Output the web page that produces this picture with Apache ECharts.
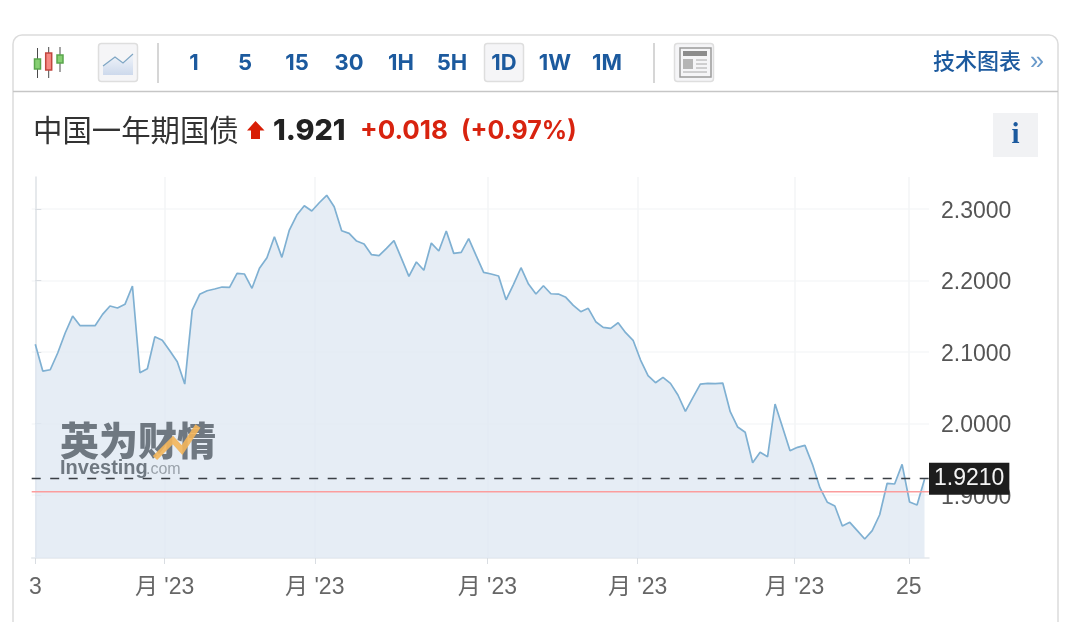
<!DOCTYPE html>
<html>
<head>
<meta charset="utf-8">
<title>中国一年期国债</title>
<style>
  html, body { margin: 0; padding: 0; background: #fff; }
  #chart { width: 1080px; height: 622px; }
</style>
<script src="https://cdn.jsdelivr.net/npm/echarts@6/dist/echarts.min.js"></script>
</head>
<body>
<div id="chart"></div>
<script>
const yields = [
  2.1108, 2.0734, 2.0752, 2.0986, 2.1266, 2.1503, 2.1368, 2.1368, 2.1368, 2.1527,
  2.1643, 2.1615, 2.1667, 2.1923, 2.0710, 2.0766, 2.1214, 2.1164, 2.1018, 2.0864,
  2.0552, 2.1587, 2.1807, 2.1857, 2.1881, 2.1909, 2.1905, 2.2101, 2.2091, 2.1891,
  2.2171, 2.2319, 2.2613, 2.2324, 2.2706, 2.2916, 2.3046, 2.2972, 2.3088, 2.3192,
  2.3032, 2.2697, 2.2660, 2.2552, 2.2510, 2.2361, 2.2347, 2.2450, 2.2557, 2.2310,
  2.2059, 2.2259, 2.2143, 2.2524, 2.2413, 2.2692, 2.2380, 2.2394, 2.2585, 2.2347,
  2.2115, 2.2091, 2.2063, 2.1731, 2.1947, 2.2179, 2.1951, 2.1811, 2.1927, 2.1815,
  2.1811, 2.1765, 2.1653, 2.1564, 2.1611, 2.1424, 2.1345, 2.1331, 2.1410, 2.1270,
  2.1164, 2.0888, 2.0669, 2.0571, 2.0646, 2.0562, 2.0399, 2.0171, 2.0361, 2.0552,
  2.0562, 2.0557, 2.0566, 2.0165, 1.9951, 1.9877, 1.9452, 1.9597, 1.9536, 2.0273,
  1.9947, 1.9620, 1.9667, 1.9695, 1.9429, 1.9102, 1.8898, 1.8846, 1.8566, 1.8618,
  1.8501, 1.8385, 1.8501, 1.8724, 1.9164, 1.9154, 1.9429, 1.8902, 1.8860, 1.9220
];
const xTickValues = [0, 17.3, 37.4, 60.5, 80.6, 101.6, 116.9];
const xTickLabels = ["3", "月 '23", "月 '23", "月 '23", "月 '23", "月 '23", "25"];
const yTickValues = [1.9, 2.0, 2.1, 2.2, 2.3];
const currentLevel = 1.9228;
const prevCloseLevel = 1.9046;
const currentTag = "1.9210";
const periods = ["1", "5", "15", "30", "1H", "5H", "1D", "1W", "1M"];

const xMin = -0.48;
const xMax = 119.6;

const blue = "#1c5a9e";
const sansFont = '"Liberation Sans", Arial, sans-serif';
const uiFont = 'Inter, "Liberation Sans", sans-serif';
const cjkFont = '"Noto Sans CJK SC", sans-serif';

function label(text, x, y, font, fill, align, z) {
  return {
    type: "text",
    silent: true,
    z: z || 0,
    style: { text, x, y, font, fill, textAlign: align || "left", textVerticalAlign: "middle" }
  };
}
function box(x, y, width, height, fill, stroke, r) {
  return {
    type: "rect",
    silent: true,
    shape: { x, y, width, height, r: r || 0 },
    style: { fill: fill || "none", stroke: stroke || "none", lineWidth: stroke ? 1.5 : 0 }
  };
}
function segment(x1, y1, x2, y2, stroke, lineWidth) {
  return {
    type: "line",
    silent: true,
    shape: { x1, y1, x2, y2 },
    style: { stroke, lineWidth: lineWidth || 1 }
  };
}

// toolbar, title row and watermark around the plot
const periodX = [194, 245, 297, 349, 401, 452, 504, 555, 607];
const chrome = [
  box(13, 35, 1045, 620, "#fff", "#dcdcdc", 9),
  segment(13, 91.5, 1058, 91.5, "#c6c6c6", 1.5),

  // candle icon
  segment(37.5, 48, 37.5, 78, "#4a4a4a"),
  box(34.5, 59, 6, 10, "#86cf72", "#5aa64c"),
  segment(48.7, 47, 48.7, 78, "#4a4a4a"),
  box(45.7, 53, 6, 17, "#f58a84", "#c2453e"),
  segment(60, 47, 60, 72, "#4a4a4a"),
  box(57, 55, 6, 8, "#86cf72", "#5aa64c"),

  // line icon
  box(98.5, 43.5, 39, 38, "#f5f5f7", "#dedede", 3),
  {
    type: "polygon",
    silent: true,
    shape: { points: [[103, 66], [115, 57], [123, 63], [133, 54], [133, 75], [103, 75]] },
    style: { fill: { type: "linear", x: 0, y: 0, x2: 0, y2: 1, colorStops: [
      { offset: 0, color: "#f2f5fa" }, { offset: 1, color: "#cdd9ec" }
    ] } }
  },
  {
    type: "polyline",
    silent: true,
    shape: { points: [[103, 66], [115, 57], [123, 63], [133, 54]] },
    style: { stroke: "#7fa6c4", lineWidth: 1.2, fill: "none" }
  },

  segment(158, 43, 158, 83, "#c9c9c9", 1.5),
  box(484.5, 43.5, 39, 38, "#f5f5f7", "#dedede", 3),
  segment(654, 43, 654, 83, "#c9c9c9", 1.5),

  // news icon
  box(674.5, 43.5, 39, 38, "#f5f5f7", "#dedede", 3),
  box(680, 48, 31, 29, "none", "#9a9a9a"),
  box(683, 51, 24, 5, "#8c8c8c"),
  box(683, 59, 10, 10, "#b5b5b5"),
  segment(696, 60, 707, 60, "#a8a8a8"),
  segment(696, 64, 707, 64, "#a8a8a8"),
  segment(696, 68, 707, 68, "#a8a8a8"),
  segment(683, 72, 707, 72, "#a8a8a8"),

  label("技术图表", 933, 61, "500 22px " + cjkFont, blue),
  label("»", 1037, 62, "25px " + sansFont, "#6b9bcb", "center"),

  // title row
  label("中国一年期国债", 33, 130, "29.4px " + cjkFont, "#333"),
  {
    type: "polygon",
    silent: true,
    shape: { points: [[255.5, 121], [264.5, 130.5], [260, 130.5], [260, 139], [251, 139], [251, 130.5], [247, 130.5]] },
    style: { fill: "#d81e06" }
  },
  label("1.921", 273, 131, "800 28.8px " + uiFont, "#222"),
  label("+0.018", 360, 131, "700 26px " + uiFont, "#d8230f"),
  label("(+0.97%)", 461, 131, "700 25px " + uiFont, "#d8230f"),

  box(993, 113, 45, 44, "#f1f2f4"),
  label("i", 1015.5, 136, 'bold 29px "Liberation Serif", serif', blue, "center"),

  // watermark
  label("英为财情", 60, 440, "900 39px " + cjkFont, "#6f7881", "left", 10),
  {
    type: "polyline",
    silent: true,
    z: 11,
    shape: { points: [[155, 458], [173, 440], [182, 450], [198, 426]] },
    style: { stroke: "rgba(243,181,90,0.9)", lineWidth: 6, fill: "none" }
  },
  label("Investing", 60, 468, "bold 20px " + sansFont, "#6f7881", "left", 10),
  label(".com", 146, 470, "16px " + sansFont, "#9aa2aa", "left", 10)
];
periods.forEach((p, i) => {
  chrome.push(label(p, periodX[i], 63, "700 22px " + uiFont, blue, "center"));
});

const chart = echarts.init(document.getElementById("chart"));
chart.setOption({
  animation: false,
  backgroundColor: "#fff",
  graphic: chrome,
  grid: { left: 31.7, right: 151, top: 177, bottom: 64 },
  xAxis: {
    type: "value",
    min: xMin,
    max: xMax,
    axisLine: { onZero: false, lineStyle: { color: "#e4e7eb", width: 1.5 } },
    axisTick: { length: 6, customValues: xTickValues, lineStyle: { color: "#d9dde2" } },
    axisLabel: {
      customValues: xTickValues,
      showMinLabel: true,
      showMaxLabel: true,
      hideOverlap: false,
      margin: 18,
      fontFamily: '"Liberation Sans", "Noto Sans CJK SC", sans-serif',
      fontSize: 23,
      color: "#666",
      formatter: (v) => xTickLabels[xTickValues.indexOf(v)]
    },
    splitLine: { show: true, customValues: xTickValues, lineStyle: { color: "#f3f4f6", width: 1.5 } }
  },
  yAxis: {
    type: "value",
    position: "right",
    min: 1.8119,
    max: 2.3448,
    axisLine: { show: true, lineStyle: { color: "#e1e4e9", width: 1.5 } },
    axisTick: { show: true, length: 6, customValues: yTickValues, lineStyle: { color: "#d9dde2" } },
    axisLabel: {
      customValues: yTickValues,
      margin: 12,
      verticalAlign: "top",
      lineHeight: 5,
      fontFamily: sansFont,
      fontSize: 23,
      color: "#555",
      formatter: (v) => v.toFixed(4)
    },
    splitLine: { show: true, customValues: yTickValues, lineStyle: { color: "#f6f7f8", width: 1.5 } }
  },
  series: [
    {
      type: "line",
      data: yields.map((v, i) => [i, v]),
      symbol: "none",
      lineStyle: { color: "#7fb0d2", width: 1.7 },
      areaStyle: { color: "#dfe8f2", opacity: 0.78 },
      markLine: {
        silent: true,
        symbol: "none",
        animation: false,
        precision: 4,
        lineStyle: { color: "#3a3f45", type: [9, 9.5], width: 1.4 },
        data: [
          {
            yAxis: currentLevel,
            label: {
              show: true,
              position: "end",
              distance: 0,
              formatter: currentTag,
              backgroundColor: "#1d1d1d",
              color: "#f4f4f4",
              fontFamily: sansFont,
              fontSize: 23,
              padding: [5, 5, 4, 5]
            }
          }
        ]
      }
    },
    {
      type: "line",
      data: [[xMin, prevCloseLevel], [xMax, prevCloseLevel]],
      symbol: "none",
      silent: true,
      lineStyle: { color: "#fb9d9d", width: 1.6 },
      itemStyle: { color: "#fb9d9d" }
    }
  ]
});
</script>
</body>
</html>
